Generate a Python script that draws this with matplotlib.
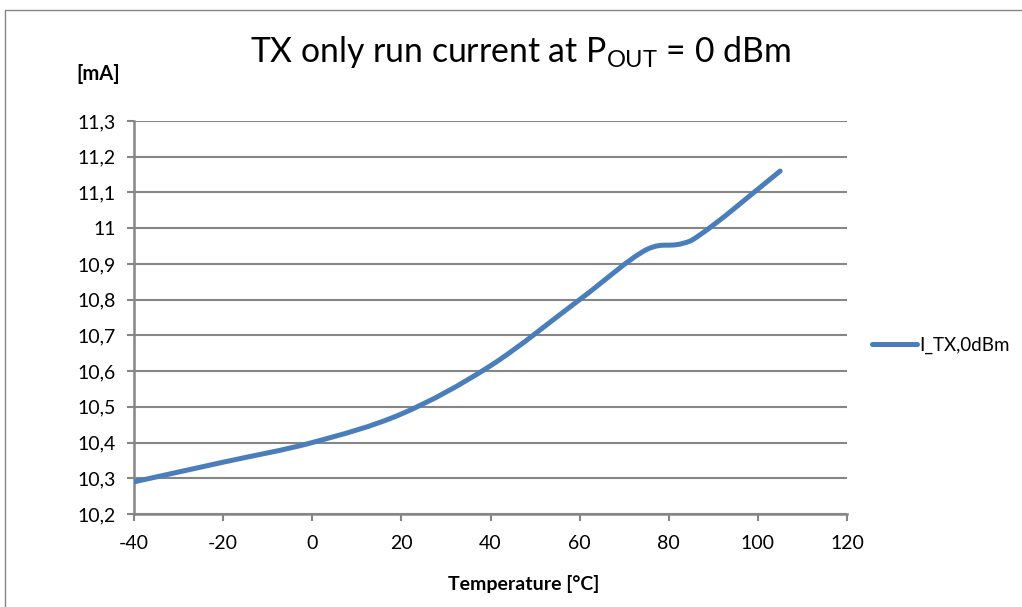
import numpy as np
import matplotlib
matplotlib.use('Agg')
import matplotlib.pyplot as plt
from matplotlib.path import Path
from matplotlib.patches import PathPatch
from matplotlib.lines import Line2D
from matplotlib.ticker import FuncFormatter, MultipleLocator

# data
temp = [-40, -20, 0, 20, 40, 60, 75, 85, 105]
i_tx = [10.29, 10.345, 10.40, 10.48, 10.615, 10.80, 10.94, 10.965, 11.16]
series_name = 'I_TX,0dBm'

plt.rcParams['font.family'] = ['Lato', 'DejaVu Sans']
plt.rcParams['mathtext.fontset'] = 'custom'
plt.rcParams['mathtext.rm'] = 'Lato'
plt.rcParams['axes.unicode_minus'] = False

grey = '#868686'
blue = '#4A7EBB'

fig = plt.figure(figsize=(10.22, 6.07), dpi=100)
ax = fig.add_axes([134/1022, 1 - 514/607, (847-134)/1022, (514-121)/607])

# excel style smoothed line: cubic bezier through the points,
# control points kept inside each segment's y range (no overshoot)
x = np.array(temp, float)
y = np.array(i_tx, float)
px = np.concatenate([[x[0]], x, [x[-1]]])
py = np.concatenate([[y[0]], y, [y[-1]]])
verts = [(x[0], y[0])]
codes = [Path.MOVETO]
for k in range(1, len(px) - 2):
    lo, hi = min(py[k], py[k+1]), max(py[k], py[k+1])
    c1 = (px[k] + (px[k+1] - px[k-1]) / 6,
          np.clip(py[k] + (py[k+1] - py[k-1]) / 6, lo, hi))
    c2 = (px[k+1] - (px[k+2] - px[k]) / 6,
          np.clip(py[k+1] - (py[k+2] - py[k]) / 6, lo, hi))
    verts += [c1, c2, (px[k+1], py[k+1])]
    codes += [Path.CURVE4] * 3
ax.add_patch(PathPatch(Path(verts, codes), facecolor='none', edgecolor=blue,
                       lw=3.6, capstyle='round', joinstyle='round', zorder=3))

ax.set_xlim(-40, 120)
ax.set_ylim(10.2, 11.3)
ax.xaxis.set_major_locator(MultipleLocator(20))
ax.yaxis.set_major_locator(MultipleLocator(0.1))
ax.yaxis.set_major_formatter(FuncFormatter(lambda v, p: ('%g' % round(v, 2)).replace('.', ',')))
ax.grid(axis='y', color=grey, lw=1.5)
ax.set_axisbelow(True)
for s in ['top', 'right']:
    ax.spines[s].set_visible(False)
for s in ['left', 'bottom']:
    ax.spines[s].set_color(grey)
    ax.spines[s].set_linewidth(1.8)
ax.tick_params(direction='out', length=5, width=1.5, color=grey,
               labelsize=14, labelcolor='black')
ax.tick_params(axis='y', pad=8)
ax.tick_params(axis='x', pad=10)

fig.text(520/1022, 1 - 52/607, r'TX only run current at P$_{\mathrm{OUT}}$ = 0 dBm',
         ha='center', va='center', fontsize=24.3)
fig.text(98/1022, 1 - 74/607, '[mA]', ha='center', va='center',
         fontsize=14.5, fontweight='bold')
fig.text(524/1022, 1 - 584/607, 'Temperature [°C]', ha='center', va='center',
         fontsize=14, fontweight='bold')

handle = Line2D([], [], color=blue, lw=3.6, solid_capstyle='round')
fig.legend([handle], [series_name], loc='center left',
           bbox_to_anchor=(855/1022, 1 - 345/607), frameon=False,
           fontsize=13.5, handlelength=2.4, handletextpad=0.15)

# chart area border (only left and top are inside the image)
fig.add_artist(Line2D([5/1022, 5/1022, 1.0], [0.0, 1 - 10/607, 1 - 10/607],
                      transform=fig.transFigure, color=grey, lw=1))

fig.savefig('out.png', dpi=100)
